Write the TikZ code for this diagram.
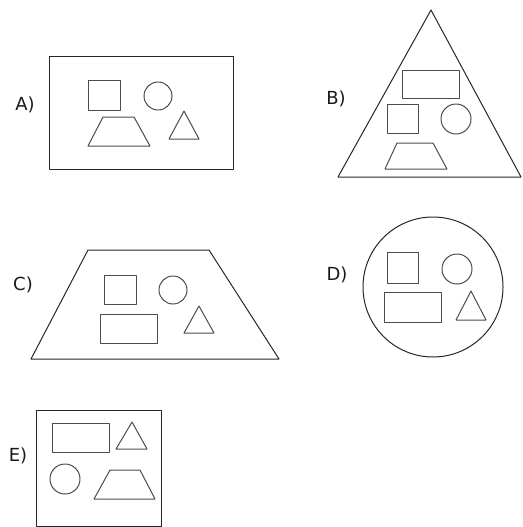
\documentclass[tikz,border=0pt]{standalone}
\usepackage{fontspec}
\setmainfont{DejaVu Sans}
\begin{document}
\begin{tikzpicture}[x=1pt,y=-1pt,
  outer/.style={draw=black!85,line width=1pt,line join=round},
  inner/.style={draw=black!70,line width=1pt,line join=round},
  lab/.style={font=\fontsize{18}{21}\selectfont,inner sep=0pt,text=black!90}]
\useasboundingbox (0,0) rectangle (522,527);
% A
\node[lab] (la) at (25,104.5) {A)};
\draw[outer] (49,57) rectangle (233,169);
\draw[inner] (88,80) rectangle (120,110);
\draw[inner] (158,96) circle (14);
\draw[inner] (103,117) -- (134,117) -- (150,146) -- (88,146) -- cycle;
\draw[inner] (184,111) -- (199,139) -- (169,139) -- cycle;
% B
\node[lab] (lb) at (336,99) {B)};
\draw[outer] (431,10) -- (521,177) -- (338,177) -- cycle;
\draw[inner] (402,70) rectangle (459,98);
\draw[inner] (387,104) rectangle (418,133);
\draw[inner] (456,119) circle (15);
\draw[inner] (397,143) -- (433,143) -- (447,169) -- (385,169) -- cycle;
% C
\node[lab] (lc) at (23,285) {C)};
\draw[outer] (88,250) -- (209,250) -- (279,359) -- (31,359) -- cycle;
\draw[inner] (104,275) rectangle (136,304);
\draw[inner] (173,290) circle (14);
\draw[inner] (100,314) rectangle (157,343);
\draw[inner] (199,306) -- (214,333) -- (184,333) -- cycle;
% D
\node[lab] (ld) at (337,274.5) {D)};
\draw[outer] (433,287) circle (70);
\draw[inner] (387,252) rectangle (418,283);
\draw[inner] (457,269) circle (15);
\draw[inner] (384,292) rectangle (441,322);
\draw[inner] (471,291) -- (486,320) -- (456,320) -- cycle;
% E
\node[lab] (le) at (18,456) {E)};
\draw[outer] (36,410) rectangle (161,526);
\draw[inner] (52,423) rectangle (109,452);
\draw[inner] (132,422) -- (147,449) -- (116,449) -- cycle;
\draw[inner] (65,479) circle (15);
\draw[inner] (110,470) -- (140,470) -- (155,499) -- (94,499) -- cycle;
\end{tikzpicture}
\end{document}
